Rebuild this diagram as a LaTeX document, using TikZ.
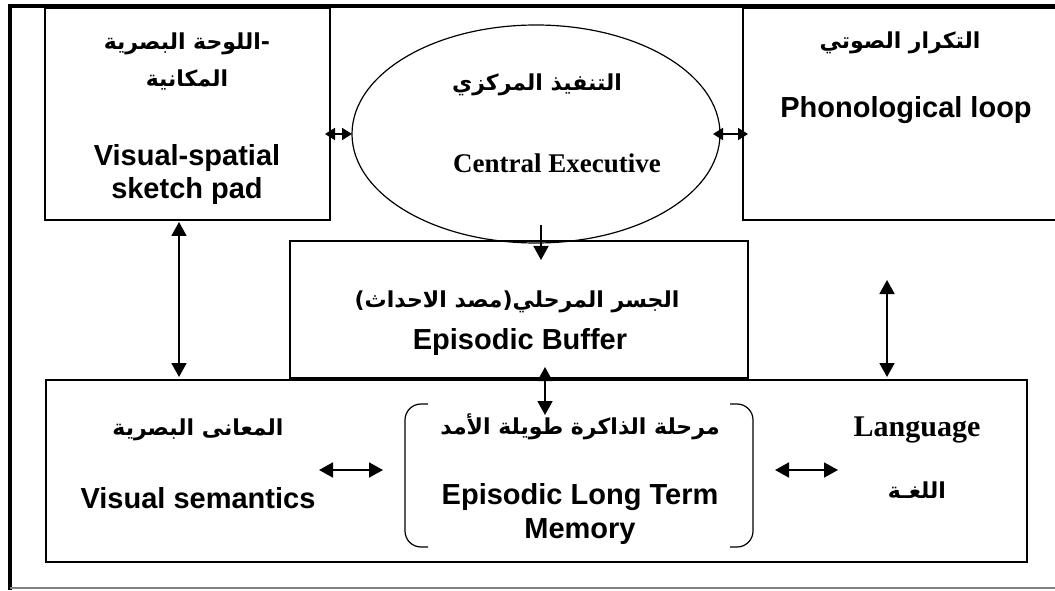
\documentclass[tikz,border=0pt]{standalone}
\usepackage{fontspec}
\setmainfont{Liberation Sans}
\newfontfamily\timesfont{Liberation Serif}
\newfontfamily\arabicfont[Script=Arabic]{DejaVu Sans}
\TeXXeTstate=1
\usetikzlibrary{shapes.geometric,arrows.meta}

\begin{document}
\begin{tikzpicture}[x=1pt,y=1pt]
	\tikzstyle{block}=[rectangle,draw=black,line width=1.6pt,inner sep=0pt,outer sep=0pt]
	\tikzstyle{label}=[font=\fontsize{29}{33}\selectfont\bfseries,align=center,inner sep=0pt]
	\tikzstyle{rtl}=[font=\fontsize{22}{37}\selectfont\arabicfont\bfseries,align=center,inner sep=0pt]
	\tikzstyle{edge}=[draw,line width=1.8pt,{Triangle[width=15pt,length=14pt]}-{Triangle[width=15pt,length=14pt]}]
	\tikzstyle{short}=[draw,line width=1.8pt,{Triangle[width=12pt,length=10pt]}-{Triangle[width=12pt,length=10pt]}]
	\tikzstyle{oneway}=[draw,line width=1.8pt,-{Triangle[width=15pt,length=14pt]}]
	\useasboundingbox (0,0) rectangle (1055,590);
	% frame
	\draw[line width=3.2pt] (1060,584) -- (10,584) -- (10,0);
	\draw[gray,line width=1.5pt] (10,2) -- (1060,2);
	\begin{scope}
		\node [block,minimum width=285pt,minimum height=212pt] (vsp) at (187.5,476) {};
		\node [block,minimum width=327pt,minimum height=212pt] (phon) at (906.5,476) {};
		\node [ellipse,draw=black,line width=1.2pt,minimum width=368pt,minimum height=218pt,inner sep=0pt,outer sep=0pt] (ce) at (536,456) {};
		\node [block,minimum width=458pt,minimum height=137pt] (buf) at (519,280.5) {};
		\node [block,minimum width=981pt,minimum height=182pt] (mem) at (536.5,119) {};
		\node [minimum width=348pt,minimum height=143pt,inner sep=0pt,outer sep=0pt] (ltm) at (579,114.5) {};
		\draw[line width=1.2pt,rounded corners=16pt] ([xshift=23pt]ltm.north west) -- (ltm.north west) -- (ltm.south west) -- ([xshift=23pt]ltm.south west);
		\draw[line width=1.2pt,rounded corners=16pt] ([xshift=-23pt]ltm.north east) -- (ltm.north east) -- (ltm.south east) -- ([xshift=-23pt]ltm.south east);
	\end{scope}
	% texts
	\node [rtl] (vspar) at (187,529) {\beginR -اللوحة البصرية\endR\\\beginR المكانية\endR};
	\node [label] (vspen) at (187,415) {Visual-spatial\\sketch pad};
	\node [rtl] (phonar) at (900,547) {\beginR التكرار الصوتي\endR};
	\node [label] (phonen) at (906,480) {Phonological loop};
	\node [rtl] (cear) at (537,505) {\beginR التنفيذ المركزي\endR};
	\node [label,font=\fontsize{27}{31}\selectfont\timesfont\bfseries] (ceen) at (557,427) {Central Executive};
	\node [rtl] (bufar) at (517,288) {\beginR الجسر المرحلي(مصد الاحداث)\endR};
	\node [label] (bufen) at (520,248) {Episodic Buffer};
	\node [rtl] (ltmar) at (580,163) {\beginR مرحلة الذاكرة طويلة الأمد\endR};
	\node [label] (ltmen) at (580,76) {Episodic Long Term\\Memory};
	\node [rtl] (vsemar) at (198,160) {\beginR المعانى البصرية\endR};
	\node [label] (vsemen) at (198,92) {Visual semantics};
	\node [label,font=\fontsize{30}{34}\selectfont\timesfont\bfseries] (langen) at (917,160) {Language};
	\node [rtl] (langar) at (917,100) {\beginR اللغـة\endR};
	% connectors
	\coordinate (langtop) at (887,310);
	\path[short,shorten <=-5pt] (ce.west -| vsp.east) -- (ce.west);
	\path[short,shorten <=-7pt,shorten >=-5pt] (ce.east) -- (ce.east -| phon.west);
	\path[oneway] ([xshift=5pt,yshift=18pt]ce.south) -- ([xshift=22pt,yshift=-19pt]buf.north);
	\path[edge,shorten <=-11pt,shorten >=-11pt] ([xshift=26pt]buf.south) -- ([xshift=26pt]buf.south |- ltm.north);
	\path[edge,shorten <=2pt,shorten >=3pt] ([xshift=-8.5pt]vsp.south) -- ([xshift=-8.5pt]vsp.south |- mem.north);
	\path[edge,shorten >=3pt] (langtop) -- (langtop |- mem.north);
	\path[edge,shorten >=22pt] ([xshift=-86pt,yshift=5.5pt]ltm.west) -- ([yshift=5.5pt]ltm.west);
	\path[edge,shorten <=22pt] ([yshift=5.5pt]ltm.east) -- ([xshift=85pt,yshift=5.5pt]ltm.east);
\end{tikzpicture}
\end{document}
